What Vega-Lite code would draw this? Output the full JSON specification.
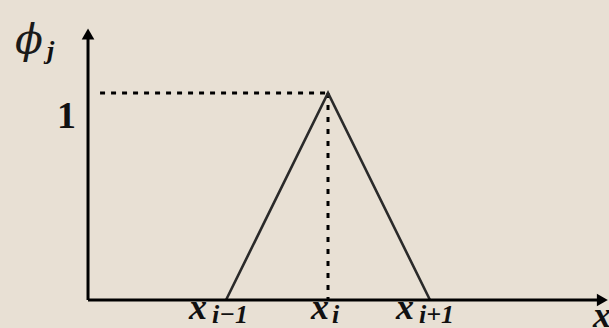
{
  "$schema": "https://vega.github.io/schema/vega-lite/v6.json",
  "width": 609,
  "height": 328,
  "padding": 0,
  "autosize": {"type": "none"},
  "background": "#e8e0d4",
  "config": {"view": {"stroke": null}},
  "resolve": {"scale": {"x": "shared", "y": "shared"}},
  "layer": [
    {
      "description": "horizontal dotted guide at phi = 1",
      "data": {"values": [{"x": -2.235, "y": 1}, {"x": 0, "y": 1}]},
      "mark": {"type": "line", "color": "#000", "strokeWidth": 3, "strokeDash": [5, 6]},
      "encoding": {
        "x": {"field": "x", "type": "quantitative", "scale": {"domain": [-3.216, 2.755], "nice": false, "zero": false}, "axis": null},
        "y": {"field": "y", "type": "quantitative", "scale": {"domain": [-0.135, 1.449], "nice": false, "zero": false}, "axis": null}
      }
    },
    {
      "description": "vertical dotted guide at x_i",
      "data": {"values": [{"x": 0, "y": 1}, {"x": 0, "y": 0}]},
      "mark": {"type": "line", "color": "#000", "strokeWidth": 3, "strokeDash": [5, 7]},
      "encoding": {
        "x": {"field": "x", "type": "quantitative"},
        "y": {"field": "y", "type": "quantitative"}
      }
    },
    {
      "description": "hat basis function",
      "data": {"values": [{"x": -1, "y": 0}, {"x": 0, "y": 1}, {"x": 1, "y": 0}]},
      "mark": {"type": "line", "color": "#2a2a2a", "strokeWidth": 2.6},
      "encoding": {
        "x": {"field": "x", "type": "quantitative"},
        "y": {"field": "y", "type": "quantitative"}
      }
    },
    {
      "description": "coordinate axes",
      "data": {"values": [
        {"x": -2.353, "y": 0, "x2": -2.353, "y2": 1.27},
        {"x": -2.353, "y": 0, "x2": 2.68, "y2": 0}
      ]},
      "mark": {"type": "rule", "color": "#000", "strokeWidth": 3},
      "encoding": {
        "x": {"field": "x", "type": "quantitative"},
        "y": {"field": "y", "type": "quantitative"},
        "x2": {"field": "x2"},
        "y2": {"field": "y2"}
      }
    },
    {
      "description": "arrowhead on the vertical axis",
      "data": {"values": [{"x": -2.353, "y": 1.285}]},
      "mark": {"type": "point", "shape": "triangle-up", "filled": true, "color": "#000", "opacity": 1, "size": 160},
      "encoding": {
        "x": {"field": "x", "type": "quantitative"},
        "y": {"field": "y", "type": "quantitative"}
      }
    },
    {
      "description": "arrowhead on the horizontal axis",
      "data": {"values": [{"x": 2.69, "y": 0}]},
      "mark": {"type": "point", "shape": "triangle-right", "filled": true, "color": "#000", "opacity": 1, "size": 160},
      "encoding": {
        "x": {"field": "x", "type": "quantitative"},
        "y": {"field": "y", "type": "quantitative"}
      }
    },
    {
      "description": "function symbol",
      "data": {"values": [{"x": -3.07, "y": 1.195, "label": "ϕ"}]},
      "mark": {"type": "text", "align": "left", "baseline": "alphabetic", "font": "DejaVu Serif", "fontStyle": "italic", "fontWeight": "normal", "fontSize": 41, "color": "#1a1a1a"},
      "encoding": {
        "x": {"field": "x", "type": "quantitative"},
        "y": {"field": "y", "type": "quantitative"},
        "text": {"field": "label"}
      }
    },
    {
      "description": "node symbols",
      "data": {"values": [
        {"x": -1.363, "y": -0.092, "label": "x"},
        {"x": -0.167, "y": -0.092, "label": "x"},
        {"x": 0.666, "y": -0.092, "label": "x"},
        {"x": 2.598, "y": -0.128, "label": "x"}
      ]},
      "mark": {"type": "text", "align": "left", "baseline": "alphabetic", "font": "Liberation Serif", "fontStyle": "italic", "fontWeight": "bold", "fontSize": 36, "color": "#111"},
      "encoding": {
        "x": {"field": "x", "type": "quantitative"},
        "y": {"field": "y", "type": "quantitative"},
        "text": {"field": "label"}
      }
    },
    {
      "description": "tick value on the vertical axis",
      "data": {"values": [{"x": -2.657, "y": 0.831, "label": "1"}]},
      "mark": {"type": "text", "align": "left", "baseline": "alphabetic", "font": "Liberation Serif", "fontWeight": "bold", "fontSize": 38, "color": "#111"},
      "encoding": {
        "x": {"field": "x", "type": "quantitative"},
        "y": {"field": "y", "type": "quantitative"},
        "text": {"field": "label"}
      }
    },
    {
      "description": "subscripts",
      "data": {"values": [
        {"x": -2.755, "y": 1.165, "label": "j"},
        {"x": -1.137, "y": -0.112, "label": "i−1"},
        {"x": 0.039, "y": -0.112, "label": "i"},
        {"x": 0.892, "y": -0.112, "label": "i+1"}
      ]},
      "mark": {"type": "text", "align": "left", "baseline": "alphabetic", "font": "Liberation Serif", "fontStyle": "italic", "fontWeight": "bold", "fontSize": 26, "color": "#111"},
      "encoding": {
        "x": {"field": "x", "type": "quantitative"},
        "y": {"field": "y", "type": "quantitative"},
        "text": {"field": "label"}
      }
    }
  ]
}
